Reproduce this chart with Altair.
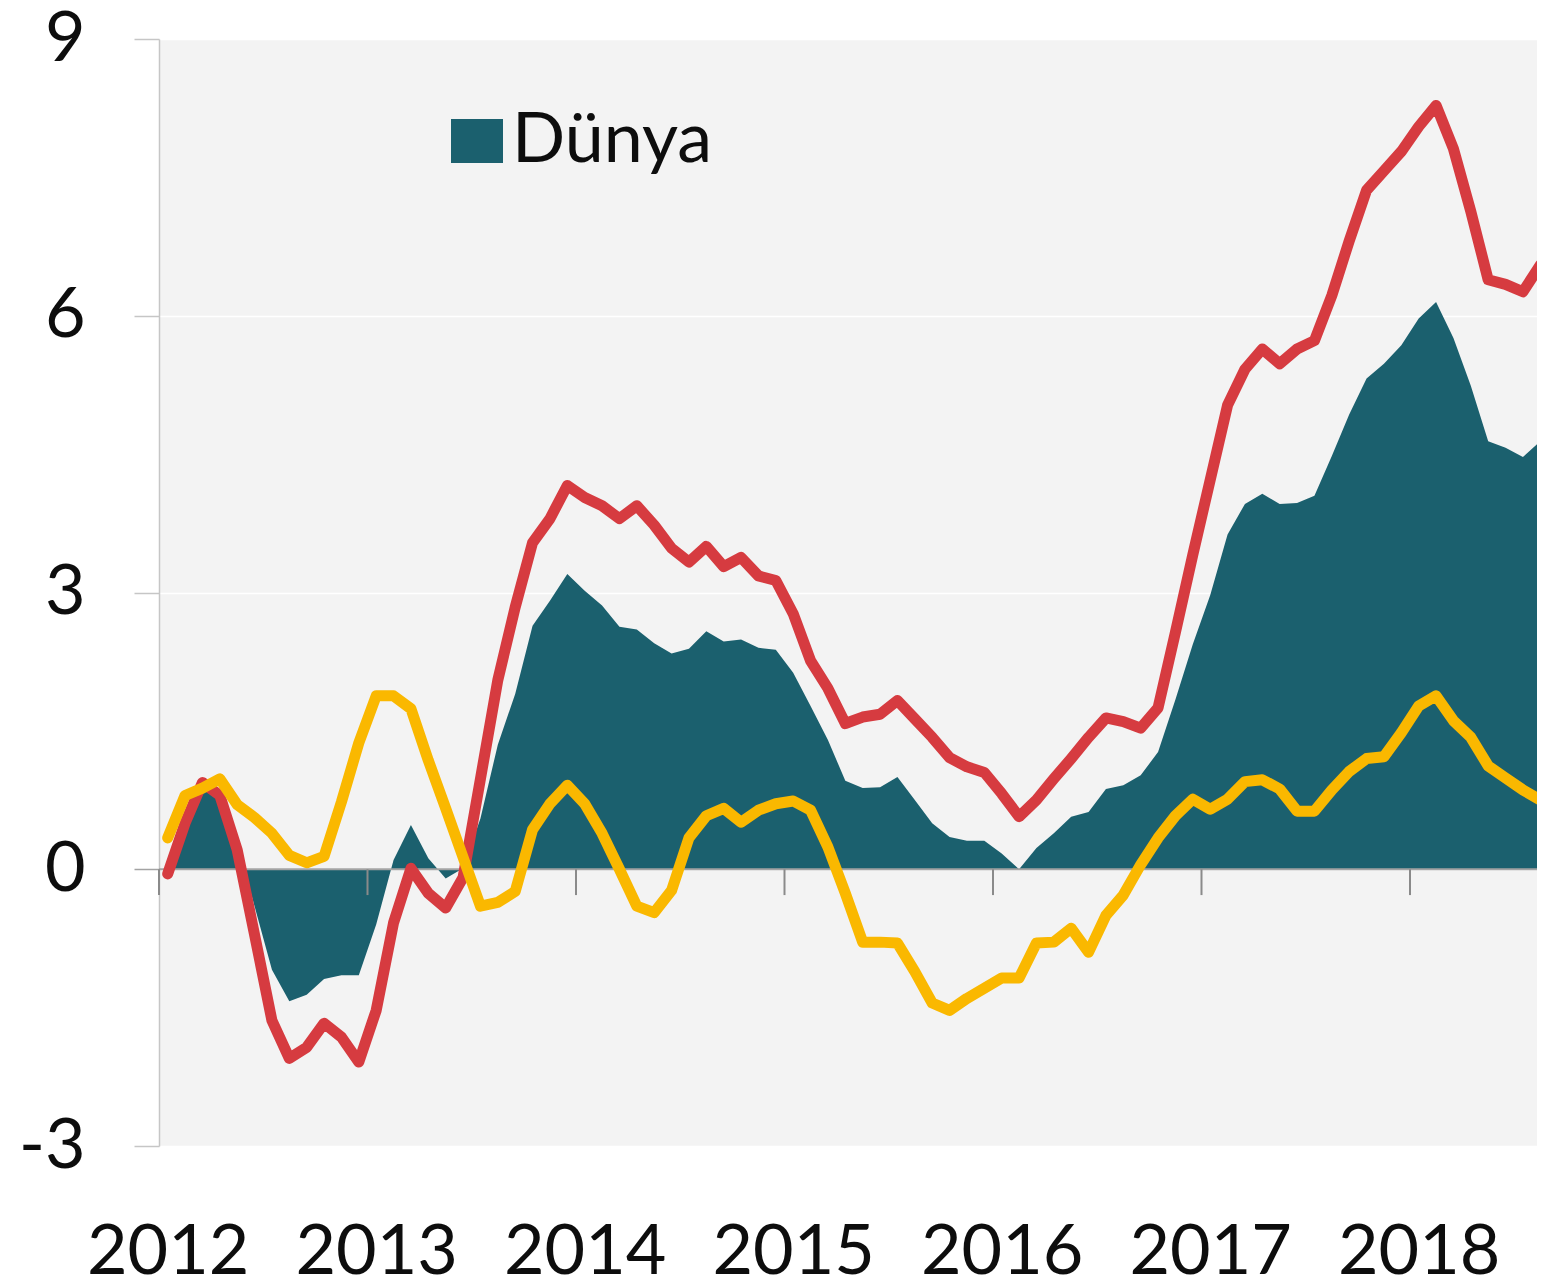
import altair as alt
import pandas as pd

# monthly data, Jan 2012 .. Aug 2018
months = pd.date_range("2012-01-01", periods=80, freq="MS").strftime("%Y-%m").tolist()

dunya = [0.0, 0.45, 0.86, 0.78, 0.28, -0.4, -1.09, -1.43, -1.36, -1.19, -1.15, -1.15,
         -0.6, 0.1, 0.48, 0.12, -0.1, 0.01, 0.55, 1.35, 1.9, 2.64, 2.91, 3.2,
         3.02, 2.86, 2.63, 2.6, 2.45, 2.34, 2.39, 2.58, 2.47, 2.49, 2.4, 2.38,
         2.13, 1.77, 1.4, 0.96, 0.88, 0.89, 1.0, 0.75, 0.5, 0.35, 0.31, 0.31,
         0.17, 0.0, 0.23, 0.39, 0.57, 0.62, 0.87, 0.91, 1.02, 1.27, 1.84, 2.44,
         2.97, 3.63, 3.96, 4.07, 3.96, 3.97, 4.05, 4.48, 4.93, 5.32, 5.48, 5.68,
         5.97, 6.15, 5.76, 5.24, 4.64, 4.57, 4.47, 4.64]

red = [-0.05, 0.5, 0.94, 0.8, 0.21, -0.71, -1.64, -2.05, -1.93, -1.67, -1.82, -2.09,
       -1.53, -0.58, 0.01, -0.26, -0.42, -0.09, 0.98, 2.05, 2.84, 3.54, 3.8, 4.16,
       4.03, 3.94, 3.8, 3.94, 3.73, 3.48, 3.33, 3.5, 3.28, 3.38, 3.18, 3.13,
       2.77, 2.26, 1.96, 1.58, 1.65, 1.68, 1.83, 1.63, 1.43, 1.21, 1.11, 1.05,
       0.82, 0.57, 0.75, 0.98, 1.2, 1.43, 1.64, 1.6, 1.53, 1.75, 2.57, 3.41,
       4.22, 5.03, 5.42, 5.64, 5.48, 5.64, 5.73, 6.22, 6.81, 7.36, 7.57, 7.78,
       8.05, 8.28, 7.81, 7.13, 6.39, 6.34, 6.26, 6.55]

yellow = [0.34, 0.8, 0.88, 0.98, 0.7, 0.56, 0.39, 0.15, 0.07, 0.14, 0.73, 1.37,
          1.88, 1.88, 1.74, 1.18, 0.66, 0.13, -0.4, -0.36, -0.24, 0.43, 0.71, 0.91,
          0.71, 0.39, 0.0, -0.4, -0.47, -0.23, 0.34, 0.58, 0.66, 0.51, 0.64, 0.71,
          0.74, 0.64, 0.24, -0.26, -0.79, -0.79, -0.8, -1.11, -1.45, -1.53, -1.4, -1.29,
          -1.18, -1.18, -0.8, -0.79, -0.64, -0.9, -0.5, -0.28, 0.05, 0.34, 0.58, 0.76,
          0.65, 0.76, 0.95, 0.97, 0.87, 0.63, 0.63, 0.86, 1.06, 1.2, 1.22, 1.48,
          1.77, 1.88, 1.61, 1.43, 1.12, 0.99, 0.86, 0.75]

years = [2012, 2013, 2014, 2015, 2016, 2017, 2018]
y_ticks = [-3, 0, 3, 6, 9]

TEAL = "#1b606e"
RED = "#d63b40"
YELLOW = "#fab800"
FONT = "Lato"

df = pd.DataFrame({
    "month": months,
    "idx": list(range(len(months))),
    "dunya": dunya,
    "red": red,
    "yellow": yellow,
    "name": ["Dünya"] * len(months),
})

ticks_df = pd.DataFrame({"t": [(y - 2012) * 12 - 0.5 for y in years]})

# the plot in the reference runs past the right edge of the window
x_scale = alt.Scale(domain=[-0.5, 79.27], range=[0, 1386], nice=False, zero=False)
y_scale = alt.Scale(domain=[-3, 9], nice=False)

x_axis = alt.Axis(
    values=[(y - 2012) * 12 for y in years],
    labelExpr="toString(2012 + datum.value / 12)",
    title=None, domain=False, ticks=False, tickSize=0, grid=False,
    labelFont=FONT, labelFontSize=70, labelColor="#0d0d0d",
    labelBaseline="alphabetic", labelPadding=127, labelFlush=False,
)

y_axis = alt.Axis(
    values=y_ticks, title=None,
    labelExpr="toString(datum.value)",
    domain=True, domainColor="#c6c6c6", domainWidth=1.5,
    ticks=True, tickSize=25, tickWidth=1.5,
    tickColor={"condition": {"test": "datum.value === 0", "value": "#a3a3a3"}, "value": "#c6c6c6"},
    grid=True, gridColor="#ffffff", gridWidth=1.5,
    labelFont=FONT, labelFontSize=70, labelColor="#0d0d0d",
    labelPadding=49, labelFlush=False,
)

base = alt.Chart(df)

area = base.mark_area(color=TEAL, opacity=1).encode(
    x=alt.X("idx:Q", scale=x_scale, axis=x_axis),
    y=alt.Y("dunya:Q", scale=y_scale, axis=y_axis),
    color=alt.Color(
        "name:N",
        scale=alt.Scale(domain=["Dünya"], range=[TEAL]),
        legend=alt.Legend(
            title=None, orient="none", legendX=283, legendY=67,
            symbolType="M-1,-0.846H1V0.846H-1Z", symbolSize=2704, symbolStrokeWidth=0,
            symbolOpacity=1, labelFont=FONT, labelFontSize=70, labelLimit=0,
            labelColor="#0d0d0d", labelOffset=0, padding=0,
        ),
    ),
)

zero = alt.Chart(pd.DataFrame({"v": [0]})).mark_rule(color="#a3a3a3", strokeWidth=2).encode(
    y=alt.Y("v:Q", scale=y_scale)
)

xticks = alt.Chart(ticks_df).mark_rule(color="#8a8a8a", strokeWidth=2).encode(
    x=alt.X("t:Q", scale=x_scale),
    y=alt.datum(0),
    y2=alt.datum(-0.28),
)

red_line = base.mark_line(color=RED, strokeWidth=11, strokeCap="round", strokeJoin="round").encode(
    x=alt.X("idx:Q", scale=x_scale),
    y=alt.Y("red:Q", scale=y_scale),
)

yellow_line = base.mark_line(color=YELLOW, strokeWidth=11, strokeCap="round", strokeJoin="round").encode(
    x=alt.X("idx:Q", scale=x_scale),
    y=alt.Y("yellow:Q", scale=y_scale),
)

chart = alt.layer(area, zero, xticks, red_line, yellow_line).properties(
    width=1378,
    height=1107,
    autosize=alt.AutoSizeParams(type="none"),
    padding={"left": 151, "top": 31, "right": 0, "bottom": 134},
    background="#ffffff",
).configure_view(fill="#f3f3f3", stroke=None)

chart.save("out.html", embed_options={"renderer": "svg", "actions": False})
